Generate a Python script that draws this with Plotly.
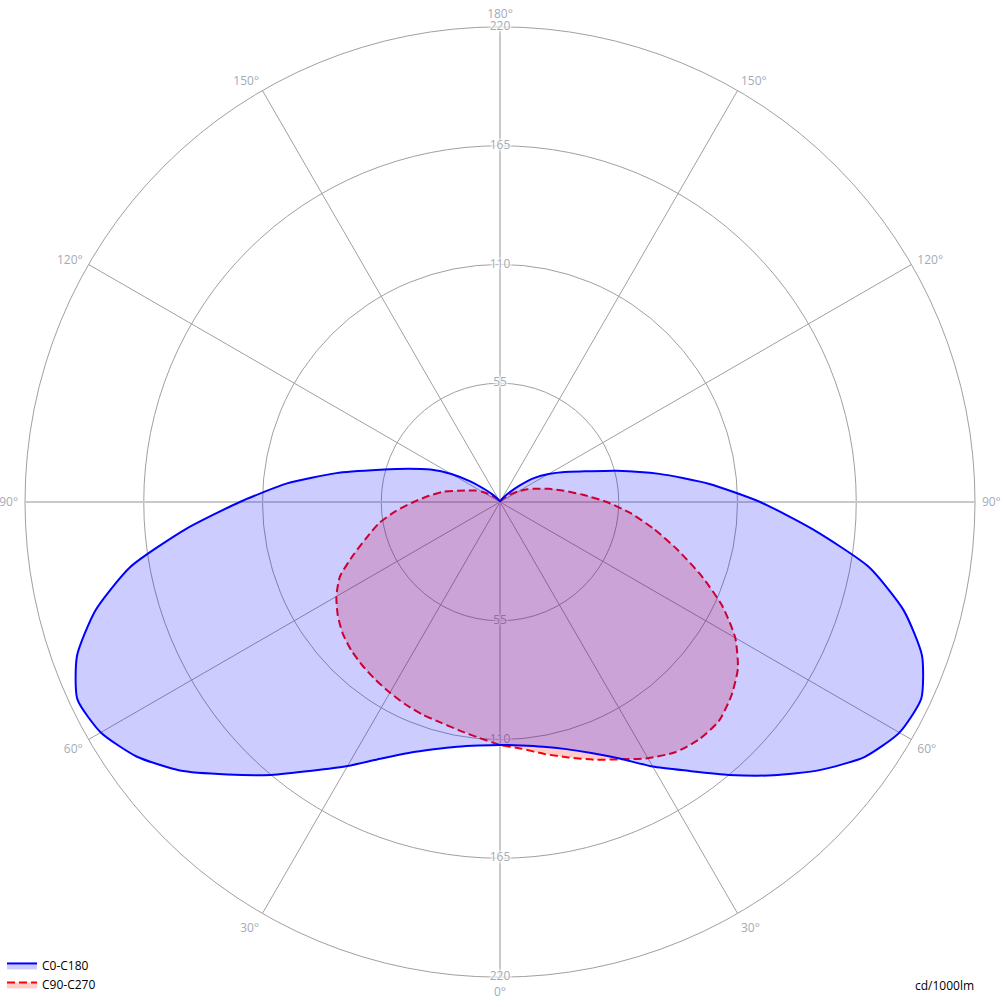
import plotly.graph_objects as go

# Photometric data (cd/1000lm) vs gamma angle
gamma = [0, 5, 10, 15, 20, 25, 30, 35, 40, 45, 50, 55, 60, 65, 70, 75, 80, 85, 90,
         95, 100, 105, 110, 115, 120, 125, 130, 135, 140, 145, 150, 155, 160, 165, 170, 175, 180]

c0 = [112.5, 113.2, 115.1, 118.5, 123.7, 131.1, 141.5, 152.0, 165.0, 179.0, 193.2, 206.0, 213.6, 215.3, 208.0, 193.5, 173.5, 145.5, 120.5,
      97.0, 75.0, 56.0, 41.5, 33.0, 26.0, 19.5, 12.0, 6.5, 3.5, 2.0, 1.0, 0.5, 0.3, 0.2, 0.1, 0.0, 0.0]
c180 = [112.5, 113.2, 115.1, 118.6, 123.7, 131.2, 141.2, 152.0, 165.0, 178.5, 193.5, 205.5, 213.5, 216.0, 208.5, 194.0, 174.0, 146.5, 120.5,
        99.0, 77.0, 57.5, 45.0, 35.5, 26.0, 16.5, 9.0, 5.0, 2.5, 1.5, 1.0, 0.5, 0.3, 0.2, 0.1, 0.0, 0.0]
c90 = [112.5, 114.7, 118.5, 122.5, 127.0, 131.5, 137.0, 141.5, 143.5, 143.4, 139.8, 134.5, 125.8, 113.5, 99.0, 85.0, 72.5, 61.0, 49.5,
       38.5, 30.0, 23.5, 18.0, 14.0, 10.0, 6.5, 4.0, 2.5, 1.5, 1.0, 0.5, 0.3, 0.2, 0.1, 0.0, 0.0, 0.0]
c270 = [112.5, 109.7, 107.5, 105.8, 104.8, 103.5, 102.0, 100.5, 99.0, 97.3, 95.0, 91.7, 87.5, 81.8, 72.5, 64.0, 57.0, 48.5, 40.0,
        33.0, 27.0, 20.0, 15.5, 12.5, 9.5, 6.5, 4.0, 2.5, 1.5, 1.0, 0.5, 0.3, 0.2, 0.1, 0.0, 0.0, 0.0]

radial_ticks = [55, 110, 165, 220]
angle_ticks = [0, 30, 60, 90, 120, 150, 180, 210, 240, 270, 300, 330]
angle_labels = ["0°", "30°", "60°", "90°", "120°", "150°", "180°", "150°", "120°", "90°", "60°", "30°"]

series_names = ["C0-C180", "C90-C270"]
unit_label = "cd/1000lm"

W, H = 1004, 1007
GRID = "#a0a0a0"
LABEL = "#a3abb8"
FONT = "Open Sans, Noto Sans, sans-serif"

def plane(right, left):
    # start at the top of the right half, go down to 0°, then up the left half
    th = [g for g in gamma[::-1]] + [360 - g for g in gamma[1:]]
    r = list(right[::-1]) + list(left[1:])
    return r, th

fig = go.Figure()

rmax = radial_ticks[-1]
# main cross lines (0-180 and 90-270)
for a, b in [(0, 180), (90, 270)]:
    fig.add_trace(go.Scatterpolar(r=[rmax, 0, rmax], theta=[a, a, b], mode="lines",
                                  line=dict(color="#c8c8c8", width=2),
                                  hoverinfo="skip", showlegend=False))

# radial tick labels along vertical axis, up and down
halo = "white 0px 0px 2px, white 0px 0px 2px, white 0px 0px 3px, white 0px 0px 3px, white 0px 0px 4px, white 0px 0px 4px"
for th in (180, 0):
    fig.add_trace(go.Scatterpolar(r=radial_ticks, theta=[th] * len(radial_ticks), mode="text",
                                  text=[str(v) for v in radial_ticks],
                                  textfont=dict(color=LABEL, size=12, family=FONT, shadow=halo),
                                  hoverinfo="skip", showlegend=False))

r_red, th_red = plane(c90, c270)
fig.add_trace(go.Scatterpolar(r=r_red, theta=th_red, mode="lines", fill="toself",
                              name=series_names[1], legendrank=2,
                              line=dict(color="#ff0000", width=2, dash="8px,4px", shape="spline", smoothing=0.6),
                              fillcolor="rgba(255,0,0,0.2)"))

r_blue, th_blue = plane(c0, c180)
fig.add_trace(go.Scatterpolar(r=r_blue, theta=th_blue, mode="lines", fill="toself",
                              name=series_names[0], legendrank=1,
                              line=dict(color="#0000ff", width=2, shape="spline", smoothing=0.6),
                              fillcolor="rgba(0,0,255,0.2)"))

fig.update_layout(
    width=W, height=H,
    margin=dict(l=0, r=0, t=0, b=0, pad=0),
    paper_bgcolor="white",
    font=dict(family=FONT, size=12, color="black"),
    polar=dict(
        bgcolor="white",
        domain=dict(x=[25 / W, 975 / W], y=[30 / H, 1 - 27 / H]),
        angularaxis=dict(rotation=270, direction="counterclockwise",
                         tickmode="array", tickvals=angle_ticks, ticktext=angle_labels,
                         tickfont=dict(color=LABEL, size=12, family=FONT),
                         showline=True, linecolor=GRID, linewidth=1,
                         showgrid=True, gridcolor=GRID, gridwidth=1,
                         ticks="outside", ticklen=4, tickcolor="rgba(0,0,0,0)",
                         layer="below traces"),
        radialaxis=dict(range=[0, rmax], tickmode="array", tickvals=radial_ticks,
                        showticklabels=False, showline=False, ticks="",
                        showgrid=True, gridcolor=GRID, gridwidth=1,
                        layer="below traces"),
    ),
    legend=dict(x=0.002, y=0.008, xanchor="left", yanchor="bottom",
                font=dict(size=12, color="black", family=FONT),
                bgcolor="rgba(0,0,0,0)"),
    annotations=[dict(text=unit_label, xref="paper", yref="paper", x=976 / W, y=(H - 985) / H,
                      xanchor="right", yanchor="middle", showarrow=False,
                      font=dict(size=12, color="black", family=FONT))],
)

fig.write_html("out.html", config={"displayModeBar": False},
               post_script="document.body.style.margin='0px';")
